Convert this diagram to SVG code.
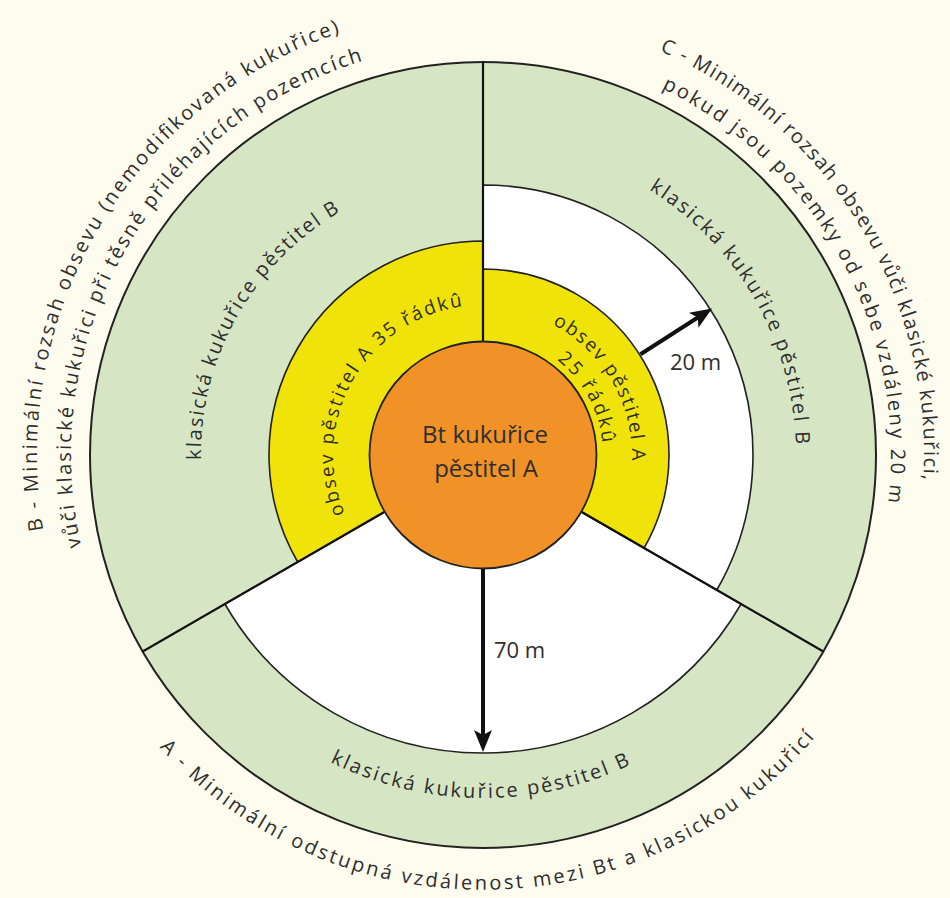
<svg xmlns="http://www.w3.org/2000/svg" width="950" height="898" viewBox="0 0 950 898">
<defs>
<style>
.bg{fill:#fdfcee}
.green{fill:#d6e5c3;stroke:#222;stroke-width:2}
.white{fill:#ffffff;stroke:#222;stroke-width:1.6}
.yellow{fill:#f0e30a;stroke:#222;stroke-width:1.6}
.orange{fill:#f09228;stroke:#222;stroke-width:1.8}
.div{stroke:#111;stroke-width:2.2;fill:none}
.arrow{stroke:#111;stroke-width:4;fill:none;marker-end:url(#ah)}
text{font-family:"Open Sans","Liberation Sans",sans-serif;fill:#2e2e2e}
.outer{font-size:20px}
.inner{font-size:20px}
.yl{font-size:19px}
.ctr{font-size:24px;text-anchor:middle}
.dist{font-size:22px}
</style>
<marker id="ah" markerUnits="userSpaceOnUse" markerWidth="22" markerHeight="18" refX="12" refY="9" orient="auto" viewBox="0 0 22 18"><path d="M0,0 L22,9 L0,18 L5,9 Z" fill="#111"/></marker>
<path id="pB1" d="M43.4,530.1 A446,446 0 0 1 340.0,32.6"/>
<path id="pB2" d="M81.2,546.3 A412,412 0 0 1 362.5,61.0"/>
<path id="pC1" d="M659.5,50.9 A441,441 0 0 1 923.3,480.4"/>
<path id="pC2" d="M661.9,88.3 A408,408 0 0 1 888.2,502.6"/>
<path id="pA1" d="M159.5,747.3 A438,438 0 0 0 816.1,736.0"/>
<path id="pBi" d="M201.0,459.9 A282,282 0 0 1 339.9,212.0"/>
<path id="pCi" d="M648.9,189.6 A313,313 0 0 1 795.8,444.1"/>
<path id="pAi" d="M330.0,762.0 A343,343 0 0 0 630.7,764.6"/>
<path id="pBy" d="M344.9,513.6 A150,150 0 0 1 462.1,306.5"/>
<path id="pCy1" d="M552.5,324.3 A149,149 0 0 1 631.9,460.2"/>
<path id="pCy2" d="M557.0,360.0 A120,120 0 0 1 602.3,442.5"/>
</defs>
<rect class="bg" x="0" y="0" width="950" height="898"/>

<g id="outer-ring">
<circle class="green" cx="483" cy="455" r="393"/>
</g>
<g id="sector-A">
<path class="white" d="M483,455 L741.1,604 A298,298 0 0 1 224.9,604 Z"/>
<text class="inner"><textPath href="#pAi" textLength="311" lengthAdjust="spacing">klasická kukuřice pěstitel B</textPath></text>
</g>
<g id="sector-C">
<path class="white" d="M483,455 L483,185 A270,270 0 0 1 716.8,590 Z"/>
<path class="yellow" d="M483,455 L483,269 A186,186 0 0 1 644.1,548 Z"/>
<text class="inner"><textPath href="#pCi" textLength="306" lengthAdjust="spacing">klasická kukuřice pěstitel B</textPath></text>
<text class="yl"><textPath href="#pCy1" textLength="166" lengthAdjust="spacing">obsev pěstitel A</textPath></text>
<text class="yl"><textPath href="#pCy2" textLength="97" lengthAdjust="spacing">25 řádkû</textPath></text>
</g>
<g id="sector-B">
<path class="yellow" d="M483,455 L297.7,562 A214,214 0 0 1 483,241 Z"/>
<text class="inner"><textPath href="#pBi" textLength="298" lengthAdjust="spacing">klasická kukuřice pěstitel B</textPath></text>
<text class="yl"><textPath href="#pBy" textLength="275" lengthAdjust="spacing">obsev pěstitel A 35 řádkû</textPath></text>
</g>

<g id="connectors">
<path class="div" d="M483,341.5 L483,62"/>
<path class="div" d="M384.7,511.75 L142.7,651.5"/>
<path class="div" d="M581.3,511.75 L823.3,651.5"/>
<path class="arrow" d="M483,569 L483,742"/>
<path class="arrow" d="M640.5,354.2 L703.7,313.8"/>
</g>

<g id="center">
<circle class="orange" cx="483" cy="455" r="113.5"/>
<text class="ctr" x="485" y="443">Bt kukuřice</text>
<text class="ctr" x="486" y="477">pěstitel A</text>
</g>

<g id="distance-labels">
<text class="dist" x="494" y="658">70 m</text>
<text class="dist" x="670" y="370">20 m</text>
</g>

<g id="label-A">
<text class="outer"><textPath href="#pA1" textLength="740" lengthAdjust="spacing">A - Minimální odstupná vzdálenost mezi Bt a klasickou kukuřicí</textPath></text>
</g>
<g id="label-B">
<text class="outer"><textPath href="#pB1" textLength="630" lengthAdjust="spacing">B - Minimální rozsah obsevu (nemodifikovaná kukuřice)</textPath></text>
<text class="outer"><textPath href="#pB2" textLength="617" lengthAdjust="spacing">vůči klasické kukuřici při těsně přiléhajících pozemcích</textPath></text>
</g>
<g id="label-C">
<text class="outer"><textPath href="#pC1" textLength="536" lengthAdjust="spacing">C - Minimální rozsah obsevu vůči klasické kukuřici,</textPath></text>
<text class="outer"><textPath href="#pC2" textLength="503" lengthAdjust="spacing">pokud jsou pozemky od sebe vzdáleny 20 m</textPath></text>
</g>
</svg>
